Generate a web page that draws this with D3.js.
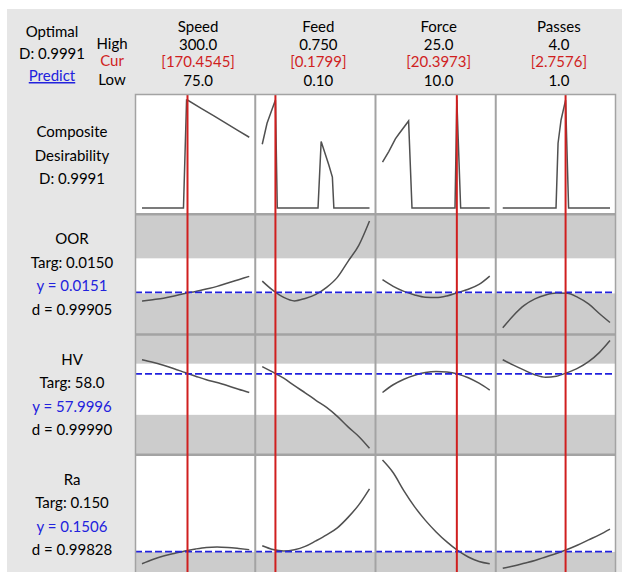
<!DOCTYPE html>
<html>
<head>
<meta charset="utf-8">
<script src="https://cdn.jsdelivr.net/npm/d3@7"></script>
<style>
  body { margin: 0; background: #ffffff; }
  text { font-family: Lato, 'Noto Sans', sans-serif; font-size: 15px; }
</style>
</head>
<body>
<div id="chart"></div>
<script>
// factors (columns)
const factors = ['Speed', 'Feed', 'Force', 'Passes']
const highs = [300.0, 0.750, 25.0, 4.0]
const lows = [75.0, 0.10, 10.0, 1.0]
const currents = [170.4545, 0.1799, 20.3973, 2.7576]
const highLabels = ['300.0', '0.750', '25.0', '4.0']
const curLabels = ['[170.4545]', '[0.1799]', '[20.3973]', '[2.7576]']
const lowLabels = ['75.0', '0.10', '10.0', '1.0']

// settings where the responses were traced
const speedGrid = [75, 97.5, 120, 142.5, 165, 187.5, 210, 232.5, 255, 277.5, 300]
const feedGrid = [0.10, 0.165, 0.23, 0.295, 0.36, 0.425, 0.49, 0.555, 0.62, 0.685, 0.75]
const forceGrid = [10, 11.5, 13, 14.5, 16, 17.5, 19, 20.5, 22, 23.5, 25]
const passesGrid = [1, 1.3, 1.6, 1.9, 2.2, 2.5, 2.8, 3.1, 3.4, 3.7, 4.0]

// responses (rows)
const responses = ['OOR', 'HV', 'Ra']
const targLabels = ['0.0150', '58.0', '0.150']
const predicted = [0.0151, 57.9996, 0.1506]
const predLabels = ['0.0151', '57.9996', '0.1506']
const dLabels = ['0.99905', '0.99990', '0.99828']
const lowerBounds = [0.0150, 50, 0.150]
const upperBounds = [0.0185, 60, 0.45]
const yRanges = [[0.0109, 0.0229], [42.2, 65.7], [0.0907, 0.400]]

const oorSpeed = [0.01423, 0.01437, 0.01452, 0.01474, 0.0150, 0.0152, 0.01544, 0.0157, 0.01604, 0.01637, 0.0167]
const oorFeed = [0.01623, 0.0153, 0.0146, 0.01425, 0.0145, 0.0149, 0.0156, 0.0166, 0.0182, 0.0198, 0.02223]
const oorForce = [0.01637, 0.0157, 0.0152, 0.01485, 0.01462, 0.01458, 0.01475, 0.01508, 0.01542, 0.0159, 0.01673]
const oorPasses = [0.01157, 0.0128, 0.0138, 0.01445, 0.01485, 0.01504, 0.01502, 0.0146, 0.01395, 0.013, 0.0121]

const hvSpeed = [60.78, 60.29, 59.69, 59.02, 58.27, 57.55, 56.86, 56.33, 55.69, 55.0, 54.37]
const hvFeed = [59.41, 58.33, 57.16, 55.69, 54.31, 52.84, 51.47, 49.71, 47.65, 45.78, 43.47]
const hvForce = [54.37, 55.88, 56.96, 57.75, 58.27, 58.47, 58.37, 58.0, 57.25, 56.18, 54.84]
const hvPasses = [60.78, 59.71, 58.73, 57.84, 57.35, 57.55, 58.24, 59.12, 60.39, 62.16, 64.51]

const raSpeed = [0.1198, 0.1307, 0.1397, 0.1461, 0.1526, 0.1577, 0.1616, 0.1629, 0.1616, 0.159, 0.1559]
const raFeed = [0.166, 0.1564, 0.1526, 0.1557, 0.1642, 0.1784, 0.1938, 0.2119, 0.2389, 0.2711, 0.3124]
const raForce = [0.3863, 0.3536, 0.3072, 0.266, 0.2312, 0.2015, 0.1758, 0.1539, 0.1371, 0.1255, 0.1198]
const raPasses = [0.108, 0.1139, 0.1209, 0.1281, 0.1371, 0.1461, 0.1564, 0.168, 0.1809, 0.1938, 0.2085]

// composite desirability traces
const speedDX = [75, 100, 125, 150, 162, 168.5, 170.4545, 200, 225, 250, 275, 300]
const speedD = [0, 0, 0, 0, 0, 1.0, 0.9991, 0.921, 0.855, 0.788, 0.722, 0.655]
const feedDX = [0.10, 0.129, 0.1799, 0.191, 0.30, 0.438, 0.457, 0.503, 0.525, 0.534, 0.65, 0.75]
const feedD = [0.59, 0.785, 0.9991, 0, 0, 0, 0.615, 0.40, 0.286, 0, 0, 0]
const forceDX = [10, 10.875, 11.8, 12.26, 13.65, 14.125, 17, 20.14, 20.3973, 20.93, 23, 25]
const forceD = [0.425, 0.523, 0.64, 0.683, 0.806, 0, 0, 0, 0.9991, 0, 0, 0]
const passesDX = [1, 2, 2.49, 2.547, 2.631, 2.7576, 2.842, 3.5, 4]
const passesD = [0, 0, 0, 0.6, 0.815, 0.9991, 0, 0, 0]
const compositeD = '0.9991'

const grids = [speedGrid, feedGrid, forceGrid, passesGrid]
const traces = [
  [oorSpeed, oorFeed, oorForce, oorPasses],
  [hvSpeed, hvFeed, hvForce, hvPasses],
  [raSpeed, raFeed, raForce, raPasses]
]
const dTraces = [[speedDX, speedD], [feedDX, feedD], [forceDX, forceD], [passesDX, passesD]]

const WIDTH = 622
const HEIGHT = 572
const RED = '#d01f1f'
const BLUE = '#2222dd'
const GRID = '#a3a3a3'

const svg = d3.select('#chart').append('svg')
                               .attr('width', WIDTH)
                               .attr('height', HEIGHT)

svg.append('rect')
     .attr('x', 7)
     .attr('y', 9)
     .attr('width', WIDTH - 7)
     .attr('height', HEIGHT - 9)
     .attr('fill', '#e6e6e6')

const colX = d3.scaleBand().domain(factors).range([135, 616])
const rowY = d3.scaleBand().domain(['Composite', ...responses]).range([94, 575])
const bw = colX.bandwidth()
const bh = rowY.bandwidth()

const xScale = i => d3.scaleLinear()
                      .domain([lows[i], highs[i]])
                      .range([colX(factors[i]) + 7, colX(factors[i]) + bw - 6])

// header text
const header = svg.append('g')
header.append('text').attr('x', 52).attr('y', 37).attr('text-anchor', 'middle').text('Optimal')
header.append('text').attr('x', 52).attr('y', 59).attr('text-anchor', 'middle').text('D: ' + compositeD)
header.append('text').attr('x', 52).attr('y', 81).attr('text-anchor', 'middle')
        .attr('fill', BLUE).attr('text-decoration', 'underline').text('Predict')
header.append('text').attr('x', 112).attr('y', 49).attr('text-anchor', 'middle').text('High')
header.append('text').attr('x', 112).attr('y', 66).attr('text-anchor', 'middle').attr('fill', RED).text('Cur')
header.append('text').attr('x', 112).attr('y', 85).attr('text-anchor', 'middle').text('Low')

const colHead = header.selectAll('g.colhead')
                      .data(factors)
                      .enter()
                        .append('g')
                        .attr('class', 'colhead')
                        .attr('transform', d => `translate(${colX(d) + bw / 2 + 3},0)`)
                        .attr('text-anchor', 'middle')
colHead.append('text').attr('y', 32).text(d => d)
colHead.append('text').attr('y', 50).text((d, i) => highLabels[i])
colHead.append('text').attr('y', 67).attr('fill', RED).text((d, i) => curLabels[i])
colHead.append('text').attr('y', 86).text((d, i) => lowLabels[i])

// row labels
const compTop = rowY('Composite')
const compLabels = ['Composite', 'Desirability', 'D: ' + compositeD]
svg.append('g')
     .selectAll('text')
     .data(compLabels)
     .enter()
       .append('text')
       .attr('x', 72)
       .attr('y', (d, i) => compTop + 43 + i * 23.5)
       .attr('text-anchor', 'middle')
       .text(d => d)

responses.forEach((r, ri) => {
  const top = rowY(r)
  const lines = [r, 'Targ: ' + targLabels[ri], 'y = ' + predLabels[ri], 'd = ' + dLabels[ri]]
  svg.append('g')
       .selectAll('text')
       .data(lines)
       .enter()
         .append('text')
         .attr('x', 72)
         .attr('y', (d, i) => top + 30 + i * 23.5)
         .attr('text-anchor', 'middle')
         .attr('fill', (d, i) => i === 2 ? BLUE : '#000')
         .text(d => d)
})

// plot panels
const plot = svg.append('g')
const clip = svg.append('defs').append('clipPath').attr('id', 'plot-clip')
clip.append('rect').attr('x', 135).attr('y', 94).attr('width', 481).attr('height', 481)
plot.attr('clip-path', 'url(#plot-clip)')

plot.append('rect')
      .attr('x', 135).attr('y', 94)
      .attr('width', 481).attr('height', 481)
      .attr('fill', '#ffffff')

const yScales = responses.map((r, ri) => d3.scaleLinear()
                                            .domain(yRanges[ri])
                                            .range([rowY(r) + bh, rowY(r)]))

// grey bands where desirability is zero
responses.forEach((r, ri) => {
  const y = yScales[ri]
  const top = rowY(r)
  const hiPx = Math.max(top, y(upperBounds[ri]))
  const loPx = Math.min(top + bh, y(lowerBounds[ri]))
  plot.append('rect').attr('x', 135).attr('y', top).attr('width', 481)
        .attr('height', Math.max(0, hiPx - top)).attr('fill', '#cccccc')
  plot.append('rect').attr('x', 135).attr('y', loPx).attr('width', 481)
        .attr('height', Math.max(0, top + bh - loPx)).attr('fill', '#cccccc')
})

// composite desirability traces
const dY = d3.scaleLinear().domain([0, 1]).range([compTop + 114, compTop + 6])
dTraces.forEach(([xs, ds], fi) => {
  const x = xScale(fi)
  const line = d3.line().x(d => x(d[0])).y(d => dY(d[1]))
  plot.append('path')
        .attr('d', line(d3.zip(xs, ds)))
        .attr('fill', 'none')
        .attr('stroke', '#505050')
        .attr('stroke-width', 1.5)
})

// response traces
responses.forEach((r, ri) => {
  const y = yScales[ri]
  factors.forEach((f, fi) => {
    const x = xScale(fi)
    const line = d3.line().x(d => x(d[0])).y(d => y(d[1])).curve(d3.curveMonotoneX)
    plot.append('path')
          .attr('d', line(d3.zip(grids[fi], traces[ri][fi])))
          .attr('fill', 'none')
          .attr('stroke', '#505050')
          .attr('stroke-width', 1.5)
  })
  plot.append('line')
        .attr('x1', 135).attr('x2', 616)
        .attr('y1', y(predicted[ri])).attr('y2', y(predicted[ri]))
        .attr('stroke', BLUE)
        .attr('stroke-width', 1.8)
        .attr('stroke-dasharray', '7,3')
})

// grid lines
colX.domain().slice(1).forEach(f => {
  plot.append('line')
        .attr('x1', colX(f)).attr('x2', colX(f))
        .attr('y1', 94).attr('y2', 575)
        .attr('stroke', GRID).attr('stroke-width', 2)
})
rowY.domain().slice(1).forEach(r => {
  plot.append('line')
        .attr('x1', 135).attr('x2', 616)
        .attr('y1', rowY(r)).attr('y2', rowY(r))
        .attr('stroke', GRID).attr('stroke-width', 2.5)
})

// current settings
factors.forEach((f, fi) => {
  const x = xScale(fi)
  plot.append('line')
        .attr('x1', x(currents[fi])).attr('x2', x(currents[fi]))
        .attr('y1', 94).attr('y2', 575)
        .attr('stroke', RED).attr('stroke-width', 2)
})

svg.append('rect')
     .attr('x', 135.5).attr('y', 94.5)
     .attr('width', 480).attr('height', 485)
     .attr('fill', 'none')
     .attr('stroke', GRID)
     .attr('stroke-width', 1.5)
</script>
</body>
</html>
